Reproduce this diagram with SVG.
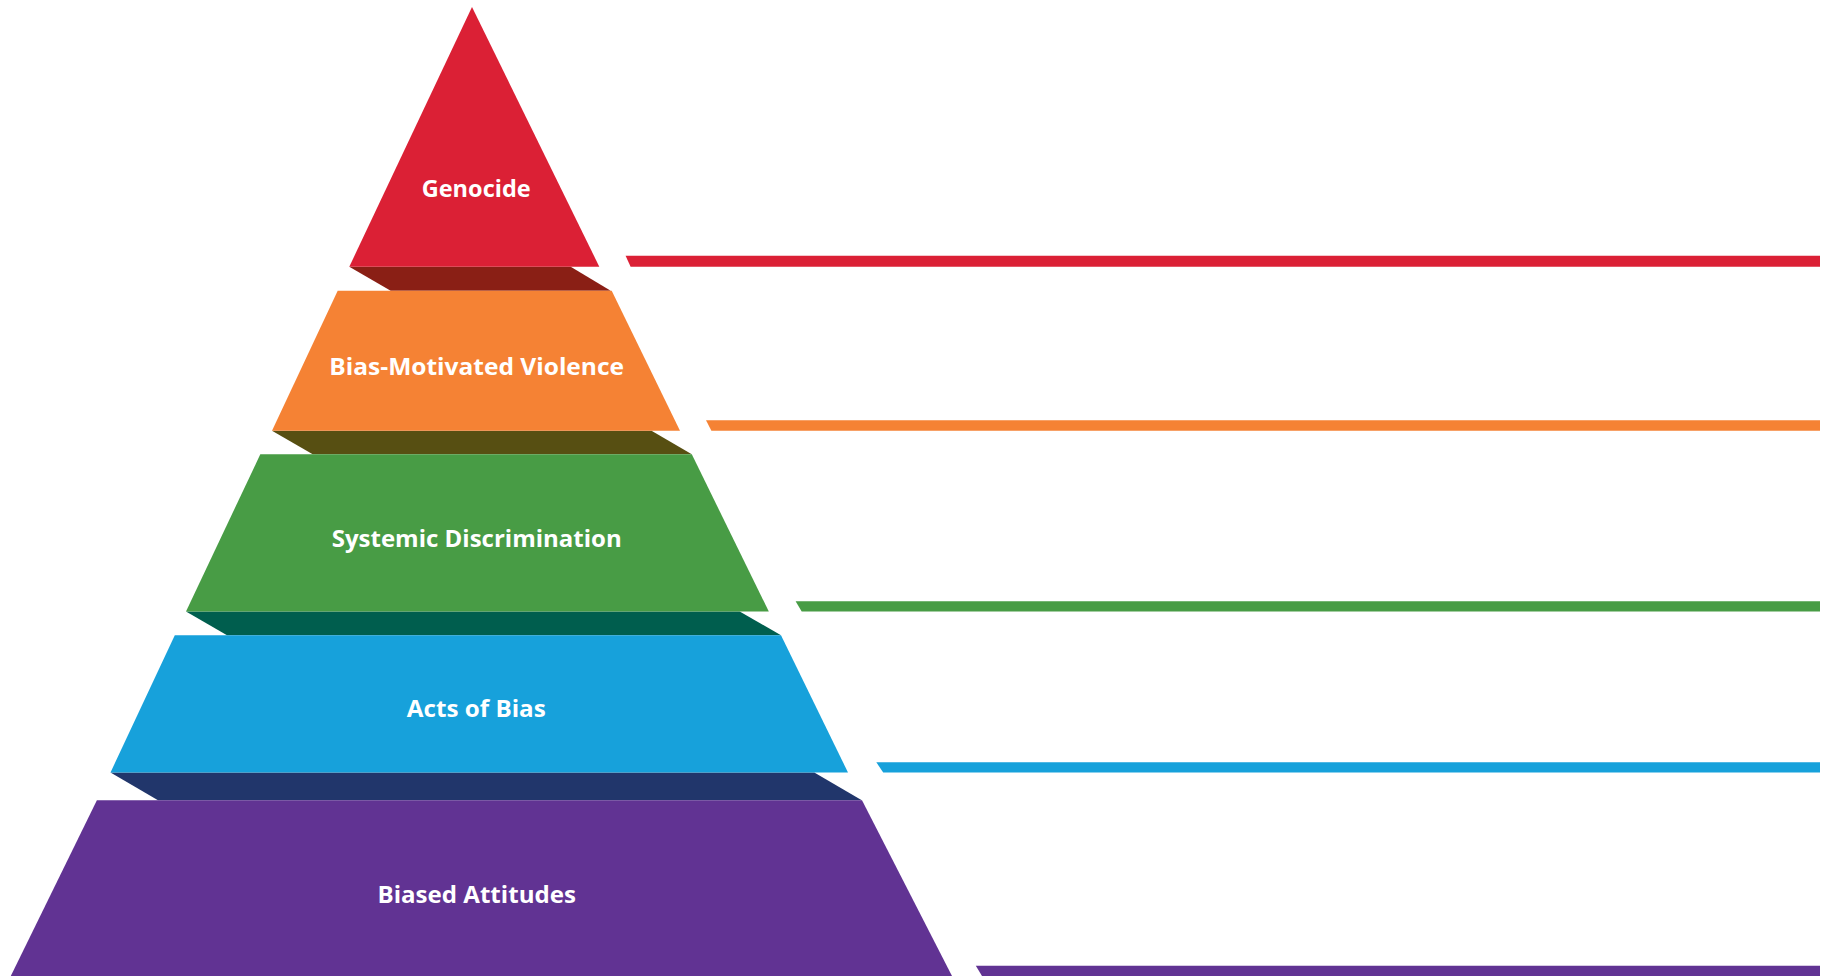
<svg xmlns="http://www.w3.org/2000/svg" width="1828" height="978" viewBox="0 0 1828 978">
<style>
.lbl{font-family:"Open Sans","Liberation Sans",sans-serif;font-weight:700;font-size:24px;fill:#ffffff;text-anchor:middle}
.red{fill:#DB2035}.dred{fill:#8A1F15}
.org{fill:#F58234}.olv{fill:#574F12}
.grn{fill:#489C45}.teal{fill:#005E4E}
.blu{fill:#17A1DB}.navy{fill:#21366B}
.pur{fill:#613393}
</style>
<rect width="1828" height="978" fill="#ffffff"/>
<g id="shadows">
<polygon class="dred" points="349.3,266.7 570.7,266.7 610.7,290.7 390.7,290.7"/>
<polygon class="olv" points="272,430.7 651.5,430.7 691.8,454.3 312.7,454.3"/>
<polygon class="teal" points="186,611.5 739.7,611.5 781,635.2 227,635.2"/>
<polygon class="navy" points="110.5,772.5 814.3,772.5 861.8,800.3 158,800.3"/>
</g>
<g id="genocide">
<polygon class="red" points="472,7 599.3,266.7 349.3,266.7"/>
<text class="lbl" x="476.2" y="196.5" textLength="109" lengthAdjust="spacingAndGlyphs">Genocide</text>
</g>
<g id="bias-motivated-violence">
<polygon class="org" points="337.7,290.7 611.7,290.7 680,430.7 272,430.7"/>
<text class="lbl" x="476.7" y="374.5" textLength="294.7" lengthAdjust="spacingAndGlyphs">Bias-Motivated Violence</text>
</g>
<g id="systemic-discrimination">
<polygon class="grn" points="260.3,454.3 691.8,454.3 768.8,611.5 186,611.5"/>
<text class="lbl" x="476.7" y="547" textLength="290" lengthAdjust="spacingAndGlyphs">Systemic Discrimination</text>
</g>
<g id="acts-of-bias">
<polygon class="blu" points="174.8,635.2 781,635.2 848,772.5 110.5,772.5"/>
<text class="lbl" x="476.3" y="717" textLength="139" lengthAdjust="spacingAndGlyphs">Acts of Bias</text>
</g>
<g id="biased-attitudes">
<polygon class="pur" points="96.9,800.3 862,800.3 952,976 10.8,976"/>
<text class="lbl" x="476.7" y="903" textLength="198.5" lengthAdjust="spacingAndGlyphs">Biased Attitudes</text>
</g>
<g id="connectors">
<polygon class="red" points="625.6,255.7 1820,255.7 1820,266.7 630.6,266.7"/>
<polygon class="org" points="706,420.3 1820,420.3 1820,430.7 711.4,430.7"/>
<polygon class="grn" points="795.6,601.3 1820,601.3 1820,611.5 801.7,611.5"/>
<polygon class="blu" points="876.3,762.3 1820,762.3 1820,772.5 883.2,772.5"/>
<polygon class="pur" points="975.8,965.7 1820,965.7 1820,976 982,976"/>
</g>
</svg>
